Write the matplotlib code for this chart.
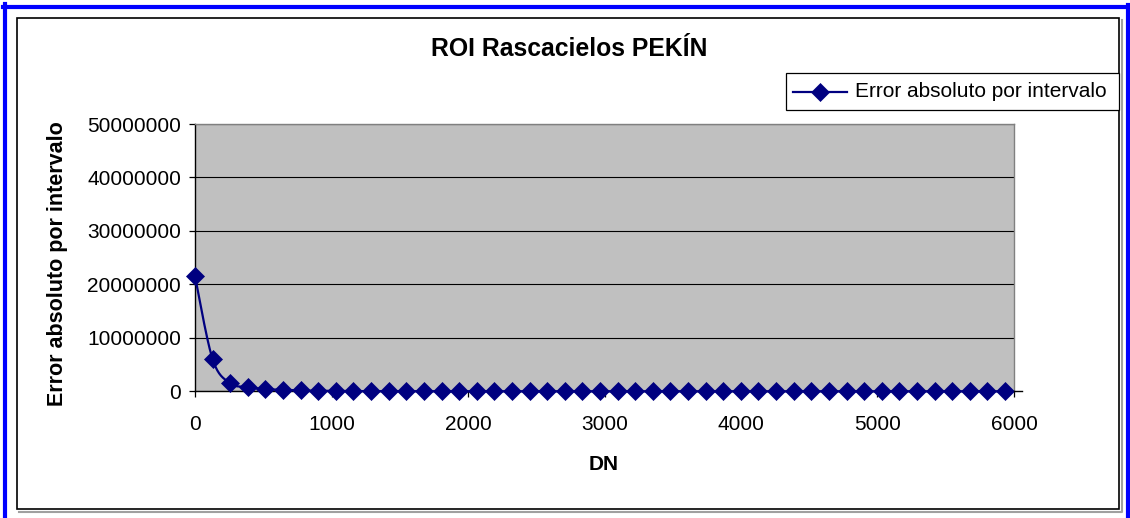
import numpy as np
import matplotlib
matplotlib.use("Agg")
import matplotlib.pyplot as plt
from matplotlib import ticker
from matplotlib.patches import Rectangle
from matplotlib.lines import Line2D

plt.rcParams['font.family'] = ['Liberation Sans', 'DejaVu Sans']

title = "ROI Rascacielos PEKÍN"
x_label = "DN"
y_label = "Error absoluto por intervalo"
series_name = "Error absoluto por intervalo"

dn = [0, 129, 258, 387, 516, 645, 774, 903, 1032, 1161, 1290, 1419, 1548, 1677,
      1806, 1935, 2064, 2193, 2322, 2451, 2580, 2709, 2838, 2967, 3096, 3225,
      3354, 3483, 3612, 3741, 3870, 3999, 4128, 4257, 4386, 4515, 4644, 4773,
      4902, 5031, 5160, 5289, 5418, 5547, 5676, 5805, 5934]
error = [21500000, 6000000, 1500000, 800000, 400000, 300000, 150000, 100000,
         60000, 40000, 30000, 20000, 15000, 10000, 8000, 6000, 5000, 4000,
         3000, 2500, 2000, 1500, 1200, 1000, 800, 600, 500, 400, 300, 250,
         200, 150, 120, 100, 80, 60, 50, 40, 30, 20, 15, 10, 8, 5, 3, 2, 1]

x_ticks = [0, 1000, 2000, 3000, 4000, 5000, 6000]
y_ticks = [0, 10000000, 20000000, 30000000, 40000000, 50000000]

W, H = 1130, 518
fig = plt.figure(figsize=(W / 100, H / 100), dpi=100)
fig.patch.set_facecolor('white')

# plot area in pixels
L, R, T, B = 195, 1014, 124, 391.3
ax = fig.add_axes([L / W, 1 - B / H, (R - L) / W, (B - T) / H])
ax.set_facecolor('#C0C0C0')
ax.set_xlim(0, 6000)
ax.set_ylim(0, 50000000)
ax.set_xticks(x_ticks)
ax.set_yticks(y_ticks)
ax.yaxis.set_major_formatter(ticker.FuncFormatter(lambda v, p: f"{int(round(v))}"))
ax.xaxis.set_major_formatter(ticker.FuncFormatter(lambda v, p: f"{int(round(v))}"))
ax.tick_params(axis='both', direction='out', length=4, width=0.9, color='black',
               labelsize=15)
ax.tick_params(axis='y', pad=6)
ax.tick_params(axis='x', pad=13)
ax.grid(axis='y', color='black', linewidth=0.8)
ax.set_axisbelow(True)
for s in ['left', 'bottom']:
    ax.spines[s].set_color('black')
    ax.spines[s].set_linewidth(1.0)
for s in ['top', 'right']:
    ax.spines[s].set_color('#808080')
    ax.spines[s].set_linewidth(1.0)

# Excel-like smoothed line (Catmull-Rom / Bezier)
xs = np.array(dn, dtype=float)
ys = np.array(error, dtype=float)
px = np.concatenate([[xs[0]], xs, [xs[-1]]])
py = np.concatenate([[ys[0]], ys, [ys[-1]]])
cx, cy = [], []
t = np.linspace(0, 1, 20)
for i in range(1, len(px) - 2):
    p0 = np.array([px[i - 1], py[i - 1]])
    p1 = np.array([px[i], py[i]])
    p2 = np.array([px[i + 1], py[i + 1]])
    p3 = np.array([px[i + 2], py[i + 2]])
    c1 = p1 + (p2 - p0) / 6
    c2 = p2 - (p3 - p1) / 6
    for tt in t:
        pt = ((1 - tt) ** 3) * p1 + 3 * ((1 - tt) ** 2) * tt * c1 + 3 * (1 - tt) * tt ** 2 * c2 + tt ** 3 * p2
        cx.append(pt[0]); cy.append(pt[1])
ax.plot(cx, cy, color='#000080', linewidth=1.6, clip_on=False, zorder=3)
ax.plot(xs, ys, linestyle='none', marker='D', markersize=8.8, color='#000080',
        markeredgewidth=0.5, clip_on=False, zorder=4)

# overlay for chart decorations
ov = fig.add_axes([0, 0, 1, 1], facecolor='none', zorder=10)
ov.set_xlim(0, W)
ov.set_ylim(H, 0)
ov.axis('off')

# blue outer frame
blue = '#0000FF'
ov.add_line(Line2D([4.5, 4.5], [4, H], color=blue, linewidth=3.0))
ov.add_line(Line2D([3, W], [6.5, 6.5], color=blue, linewidth=3.0))
ov.add_line(Line2D([1127.5, 1127.5], [5, H], color=blue, linewidth=3.0))

# chart area border with shadow
ov.add_line(Line2D([19, 1121.5, 1121.5], [511.5, 511.5, 20], color='#A0A0A0', linewidth=1.5))
ov.add_patch(Rectangle((16.5, 17.5), 1102.5, 491.5, fill=False, edgecolor='black', linewidth=1.2))

# x axis extension
ov.add_line(Line2D([R, 1022], [B, B], color='black', linewidth=1.0))

ov.text(569, 49, title, ha='center', va='center', fontsize=17.8, fontweight='bold')
ov.text(604, 465, x_label, ha='center', va='center', fontsize=15, fontweight='bold')
ov.text(57, 264, y_label, ha='center', va='center', fontsize=15.5, fontweight='bold',
        rotation=90)

# legend
ov.add_patch(Rectangle((785.5, 72.5), 333, 37, facecolor='white', edgecolor='black', linewidth=0.9))
ov.add_line(Line2D([793, 847], [91.5, 91.5], color='#000080', linewidth=1.6))
ov.add_line(Line2D([820], [91.5], linestyle='none', marker='D', markersize=8.8,
                   color='#000080', markeredgewidth=0.5))
ov.text(855, 91.5, series_name, ha='left', va='center', fontsize=15)

fig.savefig('out.png', dpi=100)
